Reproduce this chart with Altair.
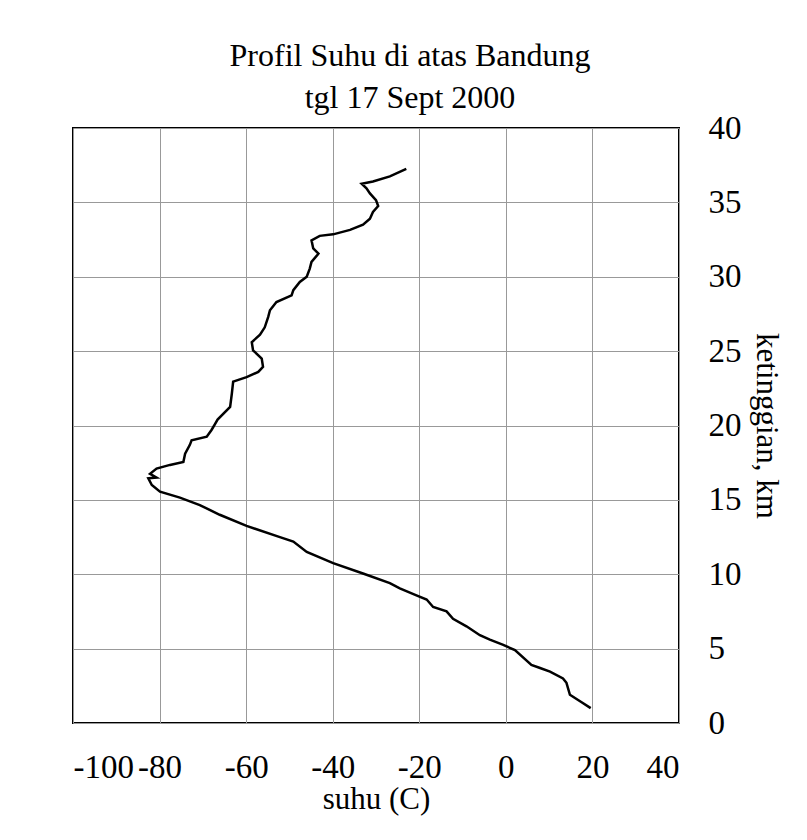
import altair as alt
import pandas as pd

height_km = [1.0, 1.4, 1.9, 2.7, 3.0, 3.45, 3.7, 3.9, 4.9, 5.25, 5.6, 5.9, 6.5, 7.0, 7.5,
             7.8, 8.3, 8.6, 9.05, 9.4, 10.05, 10.75, 11.5, 12.2, 12.5, 13.25, 14.0, 14.65,
             15.15, 15.55, 16.0, 16.45, 16.5, 16.75, 17.1, 17.35, 17.55, 18.1, 18.7, 19.0,
             19.25, 19.7, 20.1, 20.4, 21.25, 22.15, 22.95, 23.25, 23.6, 23.95, 24.5, 25.05,
             25.6, 26.1, 26.6, 27.3, 27.75, 28.3, 28.75, 29.1, 29.65, 30.0, 30.55, 31.0,
             31.55, 31.9, 32.45, 32.75, 32.85, 33.15, 33.5, 33.9, 34.35, 34.75, 35.15, 35.6,
             35.95, 36.25, 36.4, 36.75, 37.25]
temp_c = [19.6, 17.5, 14.8, 14.0, 13.2, 10.2, 7.9, 5.9, 2.1, -0.6, -3.7, -6.0, -9.1, -12.2,
          -13.7, -16.8, -18.3, -20.8, -24.5, -26.8, -33.0, -39.9, -46.0, -49.1, -52.2, -59.9,
          -66.1, -70.7, -75.3, -79.9, -81.8, -82.6, -80.7, -82.2, -80.7, -77.6, -74.5, -74.1,
          -73.0, -72.6, -69.1, -68.0, -67.2, -66.6, -63.7, -63.3, -63.0, -59.9, -57.2, -56.1,
          -56.4, -58.4, -58.7, -56.8, -55.7, -54.9, -54.5, -53.0, -49.5, -49.1, -47.6, -46.0,
          -45.3, -44.9, -43.3, -44.5, -44.9, -43.0, -39.9, -36.0, -33.0, -31.4, -30.7, -29.5,
          -30.0, -31.4, -32.2, -33.3, -30.7, -26.8, -23.0]

x_ticks = [-100, -80, -60, -40, -20, 0, 20, 40]
y_ticks = [0, 5, 10, 15, 20, 25, 30, 35, 40]

df = pd.DataFrame({"idx": list(range(len(height_km))), "suhu": temp_c, "tinggi": height_km})

FONT = "Liberation Serif"

chart = alt.Chart(df).mark_line(color="black", strokeWidth=2.5).encode(
    x=alt.X("suhu:Q", title="suhu (C)",
            scale=alt.Scale(domain=[-100, 40], nice=False),
            axis=alt.Axis(values=x_ticks, ticks=False, domain=False, labelPadding=28,
                          titlePadding=0, labelExpr="'' + datum.value")),
    y=alt.Y("tinggi:Q", title="ketinggian, km",
            scale=alt.Scale(domain=[0, 40], nice=False),
            axis=alt.Axis(orient="right", values=y_ticks, ticks=False, domain=False,
                          labelPadding=29, labelAlign="left", titlePadding=8, titleAngle=90,
                          labelExpr="'' + datum.value")),
    order="idx:Q",
).properties(
    width=606, height=595,
    title=alt.Title(["Profil Suhu di atas Bandung", "tgl 17 Sept 2000"], font=FONT,
                    fontSize=32, fontWeight="normal", lineHeight=42, dx=34, dy=5, offset=2,
                    color="black"),
    autosize=alt.AutoSizeParams(type="none"),
    padding={"left": 65, "top": 120, "right": 120, "bottom": 104},
).configure_view(
    stroke="black", strokeWidth=2
).configure_axis(
    labelFont=FONT, titleFont=FONT, labelFontSize=33, titleFontSize=31,
    titleFontWeight="normal", labelColor="black", titleColor="black",
    gridColor="#999999", gridWidth=1, gridOpacity=1
)

chart.save("out.html", embed_options={"renderer": "svg", "actions": False})
